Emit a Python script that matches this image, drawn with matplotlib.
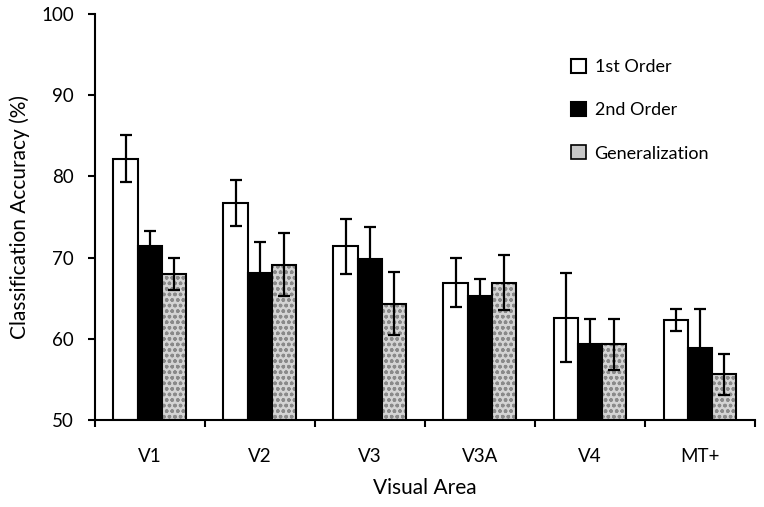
import numpy as np
import matplotlib
matplotlib.use("Agg")
import matplotlib.pyplot as plt
from matplotlib.patches import Patch

plt.rcParams['font.family'] = ['Lato', 'DejaVu Sans']

# data
areas = ['V1', 'V2', 'V3', 'V3A', 'V4', 'MT+']
first_order = [82.2, 76.7, 71.4, 66.9, 62.6, 62.3]
first_err = [2.9, 2.8, 3.4, 3.0, 5.5, 1.4]
second_order = [71.4, 68.1, 69.8, 65.2, 59.3, 58.8]
second_err = [1.9, 3.8, 4.0, 2.2, 3.1, 4.8]
generalization = [68.0, 69.1, 64.3, 66.9, 59.3, 55.6]
gen_err = [2.0, 3.9, 3.9, 3.4, 3.1, 2.5]

x = np.arange(len(areas))
w = 0.22

fig = plt.figure(figsize=(7.64, 5.07), dpi=100)
ax = fig.add_axes([0.124, 0.172, 0.864, 0.8])

err_kw = dict(ecolor='black', elinewidth=1.6, capsize=4, capthick=1.6)

ax.bar(x - w, np.array(first_order) - 50, w, bottom=50, color='white',
       edgecolor='black', linewidth=1.5, yerr=first_err, error_kw=err_kw,
       label='1st Order', zorder=2)
ax.bar(x, np.array(second_order) - 50, w, bottom=50, color='black',
       edgecolor='black', linewidth=1.5, yerr=second_err, error_kw=err_kw,
       label='2nd Order', zorder=2)
# mottled gray bars: hatched fill plus black outline
ax.bar(x + w, np.array(generalization) - 50, w, bottom=50, color='#d4d4d4',
       edgecolor='#8a8a8a', linewidth=0, hatch='ooo', zorder=2)
ax.bar(x + w, np.array(generalization) - 50, w, bottom=50, facecolor='none',
       edgecolor='black', linewidth=1.5, yerr=gen_err, error_kw=err_kw,
       zorder=3)
# legend proxy for generalization
handles, labels = ax.get_legend_handles_labels()
handles.append(Patch(facecolor='#c8c8c8', edgecolor='black', linewidth=1.2))
labels.append('Generalization')

ax.set_ylim(50, 100)
ax.set_xlim(-0.5, 5.5)
ax.set_yticks(range(50, 101, 10))
ax.set_xticks(np.arange(-0.5, 5.6, 1))
ax.set_xticklabels([])
ax.set_xticks(x, minor=True)
ax.set_xticklabels(areas, minor=True)
ax.tick_params(axis='x', which='minor', length=0, pad=20, labelsize=13.5)
ax.tick_params(axis='x', which='major', direction='out', length=5, width=1.5)
ax.tick_params(axis='y', direction='out', length=5, width=1.5, labelsize=13.5,
               pad=10)

for s in ['top', 'right']:
    ax.spines[s].set_visible(False)
for s in ['left', 'bottom']:
    ax.spines[s].set_linewidth(1.5)

ax.set_xlabel('Visual Area', fontsize=15, labelpad=10)
ax.set_ylabel('Classification Accuracy (%)', fontsize=15, labelpad=8)

ax.legend(handles, labels, loc='upper left', bbox_to_anchor=(0.697, 0.93),
          frameon=False, fontsize=13, labelspacing=1.5, handlelength=0.8,
          handleheight=0.8, handletextpad=0.5)

fig.savefig('out.png', dpi=100)
